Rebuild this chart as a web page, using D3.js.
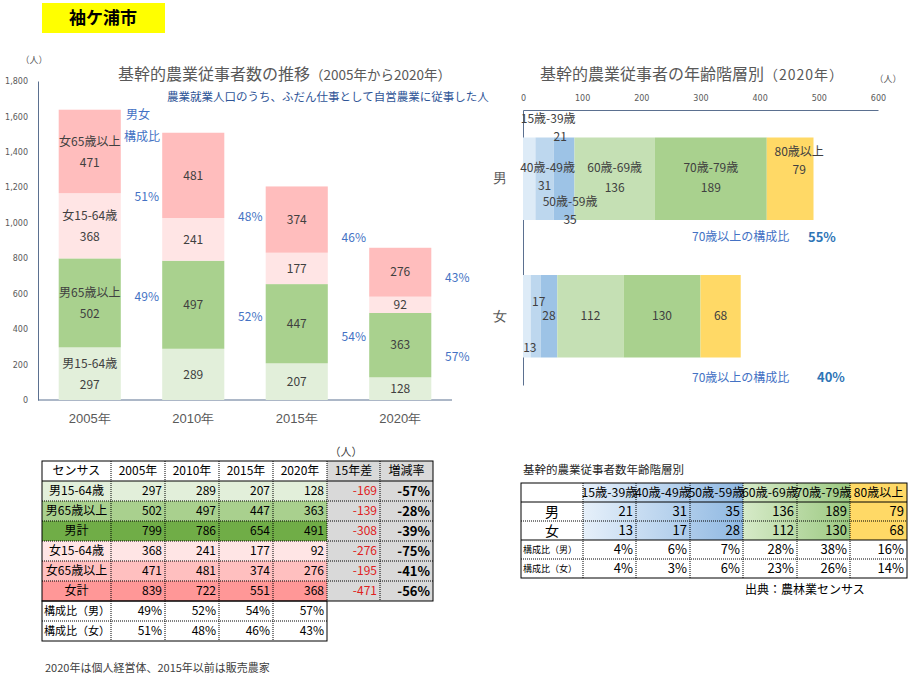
<!DOCTYPE html>
<html>
<head>
<meta charset="utf-8">
<script src="https://cdn.jsdelivr.net/npm/d3@7"></script>
<style>
  body { margin: 0; background: #fff; }
  svg { display: block; font-family: "Noto Sans CJK JP", "Noto Sans", sans-serif; }
</style>
</head>
<body>
<svg id="chart" width="919" height="680"></svg>
<script>
// --- data ---
const years = ['2005年', '2010年', '2015年', '2020年'];
const male1564 = [297, 289, 207, 128];
const male65 = [502, 497, 447, 363];
const female1564 = [368, 241, 177, 92];
const female65 = [471, 481, 374, 276];
const seriesNames = ['男15-64歳', '男65歳以上', '女15-64歳', '女65歳以上'];
const yTicks = [0, 200, 400, 600, 800, 1000, 1200, 1400, 1600, 1800];

const ageGroups = ['15歳-39歳', '40歳-49歳', '50歳-59歳', '60歳-69歳', '70歳-79歳', '80歳以上'];
const sexes = ['男', '女'];
const maleAge = [21, 31, 35, 136, 189, 79];
const femaleAge = [13, 17, 28, 112, 130, 68];
const maleAgeShare = ['4%', '6%', '7%', '28%', '38%', '16%'];
const femaleAgeShare = ['4%', '3%', '6%', '23%', '26%', '14%'];
const over70Share = ['55%', '40%'];
const xTicksAge = [0, 100, 200, 300, 400, 500, 600];

const svg = d3.select('#chart');
svg.append('rect').attr('width', 919).attr('height', 680).attr('fill', '#fff');

const blue = '#4472C4';
const gray = '#595959';
const axisCol = '#5B7090';
const loc = d3.formatLocale({ decimal: '.', thousands: ',', grouping: [3], currency: ['', ''], minus: '-' });
const pct = loc.format('.0%');

// title badge
svg.append('rect').attr('x', 42).attr('y', 3).attr('width', 123).attr('height', 30).attr('fill', '#FFFF00');
svg.append('text').attr('x', 103).attr('y', 24).attr('text-anchor', 'middle')
  .attr('font-size', 17).attr('font-weight', 'bold').text('袖ケ浦市');

// ================= left chart =================
const stackColors = ['#E2EFDA', '#A9D18E', '#FFE5E5', '#FFBDBD'];
const keys = ['m1564', 'm65', 'f1564', 'f65'];
const rows = years.map((y, i) => ({
  year: y, m1564: male1564[i], m65: male65[i], f1564: female1564[i], f65: female65[i]
}));
const maleTotal = years.map((y, i) => male1564[i] + male65[i]);
const femaleTotal = years.map((y, i) => female1564[i] + female65[i]);

const x = d3.scaleBand().domain(years).range([38, 452]).paddingInner(0.4).paddingOuter(0.2);
const y = d3.scaleLinear().domain([0, 1800]).range([400, 81]);

const gL = svg.append('g');
gL.append('text').attr('x', 118).attr('y', 80).attr('fill', gray).attr('font-size', 16)
  .text('基幹的農業従事者数の推移')
  .append('tspan').attr('font-size', 13.5).text('（2005年から2020年）');
gL.append('text').attr('x', 167).attr('y', 101).attr('fill', '#2F5597').attr('font-size', 11.5)
  .text('農業就業人口のうち、ふだん仕事として自営農業に従事した人');
gL.append('text').attr('x', 34).attr('y', 63).attr('text-anchor', 'middle').attr('fill', gray)
  .attr('font-size', 9).text('（人）');

const yAxis = gL.append('g').attr('transform', 'translate(38,0)')
  .call(d3.axisLeft(y).tickValues(yTicks).tickFormat(d3.format(',')).tickSize(0).tickSizeOuter(0).tickPadding(10));
yAxis.select('.domain').attr('stroke', axisCol);
yAxis.selectAll('text').attr('fill', gray).attr('font-size', 8).attr('font-family', 'Verdana, DejaVu Sans, sans-serif');

const xAxis = gL.append('g').attr('transform', 'translate(0,400)')
  .call(d3.axisBottom(x).tickSize(0).tickSizeOuter(0).tickPadding(14));
xAxis.select('.domain').attr('stroke', axisCol).attr('d', 'M38,0H452');
xAxis.selectAll('text').attr('fill', gray).attr('font-size', 13);

const stacked = d3.stack().keys(keys)(rows);
stacked.forEach((s, si) => {
  gL.selectAll(null).data(s).enter().append('rect')
    .attr('x', d => x(d.data.year))
    .attr('y', d => y(d[1]))
    .attr('width', x.bandwidth())
    .attr('height', d => y(d[0]) - y(d[1]))
    .attr('fill', stackColors[si]);
  s.forEach((d, i) => {
    const cx = x(d.data.year) + x.bandwidth() / 2;
    const cy = (y(d[0]) + y(d[1])) / 2;
    if (i === 0) {
      gL.append('text').attr('x', cx).attr('y', cy - 10).attr('dy', '0.35em').attr('text-anchor', 'middle')
        .attr('fill', '#404040').attr('font-size', 12).text(seriesNames[si]);
      gL.append('text').attr('x', cx).attr('y', cy + 11).attr('dy', '0.35em').attr('text-anchor', 'middle')
        .attr('fill', '#404040').attr('font-size', 12).text(d[1] - d[0]);
    } else {
      gL.append('text').attr('x', cx).attr('y', cy).attr('dy', '0.35em').attr('text-anchor', 'middle')
        .attr('fill', '#404040').attr('font-size', 12).text(d[1] - d[0]);
    }
  });
});

// 男女構成比 labels (anchors in axis units, placed by hand in the original)
const femaleAnchor = [1147, 1035, 917, 692];
const maleAnchor = [585, 467, 354, 242];
gL.append('text').attr('x', 138).attr('y', 115).attr('dy', '0.35em').attr('text-anchor', 'middle')
  .attr('fill', blue).attr('font-size', 12).text('男女');
gL.append('text').attr('x', 142).attr('y', 137).attr('dy', '0.35em').attr('text-anchor', 'middle')
  .attr('fill', blue).attr('font-size', 12).text('構成比');
years.forEach((yr, i) => {
  const tot = maleTotal[i] + femaleTotal[i];
  const lx = x(yr) + x.bandwidth() + 26;
  gL.append('text').attr('x', lx).attr('y', y(femaleAnchor[i])).attr('dy', '0.35em').attr('text-anchor', 'middle')
    .attr('fill', blue).attr('font-size', 12).text(pct(femaleTotal[i] / tot));
  gL.append('text').attr('x', lx).attr('y', y(maleAnchor[i])).attr('dy', '0.35em').attr('text-anchor', 'middle')
    .attr('fill', blue).attr('font-size', 12).text(pct(maleTotal[i] / tot));
});

// ================= right chart =================
const ageColors = ['#DDEBF7', '#BDD7EE', '#9DC3E6', '#C5E0B4', '#A9D18E', '#FFD966'];
const xr = d3.scaleLinear().domain([0, 600]).range([523, 878]);
const yr = d3.scaleBand().domain(sexes).range([110, 385]).paddingInner(0.4).paddingOuter(0.2);
const gR = svg.append('g');

gR.append('text').attr('x', 540).attr('y', 80).attr('fill', gray).attr('font-size', 16)
  .text('基幹的農業従事者の年齢階層別')
  .append('tspan').attr('font-size', 14).attr('letter-spacing', 1).text('（2020年）');
gR.append('text').attr('x', 888).attr('y', 82).attr('text-anchor', 'middle').attr('fill', gray)
  .attr('font-size', 9).text('（人）');

const rAxis = gR.append('g').attr('transform', 'translate(0,110)')
  .call(d3.axisTop(xr).tickValues(xTicksAge).tickSize(0).tickSizeOuter(0).tickPadding(9));
rAxis.select('.domain').attr('stroke', axisCol);
rAxis.selectAll('text').attr('fill', gray).attr('font-size', 8).attr('font-family', 'Verdana, DejaVu Sans, sans-serif');
const vAxis = gR.append('g').attr('transform', 'translate(523,0)')
  .call(d3.axisLeft(yr).tickSize(0).tickSizeOuter(0).tickPadding(16));
vAxis.select('.domain').attr('stroke', axisCol);
vAxis.selectAll('text').attr('fill', gray).attr('font-size', 14);

// label offsets (dx, dy from segment centre) for name / value, placed by hand in the original
const maleLabelPos = [
  { n: [19, -60], v: [31, -42] },
  { n: [3, -11], v: [0, 7] },
  { n: [6, 23], v: [6, 41] },
  { n: [0, -11], v: [0, 9] },
  { n: [0, -11], v: [0, 9] },
  { n: [9, -27], v: [9, -9] }
];
const femaleLabelPos = [[3, 32], [3, -14], [0, 0], [0, 0], [0, 0], [0, 0]];

[maleAge, femaleAge].forEach((vals, si) => {
  const sex = sexes[si];
  const cum = d3.cumsum(vals);
  const segs = vals.map((v, i) => ({ v, x0: cum[i] - v, x1: cum[i], i }));
  gR.selectAll(null).data(segs).enter().append('rect')
    .attr('x', d => xr(d.x0)).attr('y', yr(sex))
    .attr('width', d => xr(d.x1) - xr(d.x0)).attr('height', yr.bandwidth())
    .attr('fill', d => ageColors[d.i]);
  const cy = yr(sex) + yr.bandwidth() / 2;
  segs.forEach(d => {
    const cx = (xr(d.x0) + xr(d.x1)) / 2;
    if (si === 0) {
      const p = maleLabelPos[d.i];
      gR.append('text').attr('x', cx + p.n[0]).attr('y', cy + p.n[1]).attr('dy', '0.35em')
        .attr('text-anchor', 'middle').attr('fill', '#404040').attr('font-size', 12).text(ageGroups[d.i]);
      gR.append('text').attr('x', cx + p.v[0]).attr('y', cy + p.v[1]).attr('dy', '0.35em')
        .attr('text-anchor', 'middle').attr('fill', '#404040').attr('font-size', 12).text(d.v);
    } else {
      const p = femaleLabelPos[d.i];
      gR.append('text').attr('x', cx + p[0]).attr('y', cy + p[1]).attr('dy', '0.35em')
        .attr('text-anchor', 'middle').attr('fill', '#404040').attr('font-size', 12).text(d.v);
    }
  });
  const ty = yr(sex) + yr.bandwidth() + (si === 0 ? 17 : 20);
  gR.append('text').attr('x', 692).attr('y', ty).attr('dy', '0.35em').attr('fill', blue)
    .attr('font-size', 12).text('70歳以上の構成比');
  gR.append('text').attr('x', si === 0 ? 808 : 817).attr('y', ty).attr('dy', '0.35em').attr('fill', '#2E75B6')
    .attr('font-size', 13).attr('font-weight', 'bold').text(over70Share[si]);
});

// ================= tables =================
function drawGrid(g, xs, ys, solidRows) {
  // dotted inner lines
  for (let i = 1; i < xs.length - 1; i++) {
    g.append('line').attr('x1', xs[i]).attr('x2', xs[i]).attr('y1', ys[0]).attr('y2', ys[ys.length - 1])
      .attr('stroke', '#000').attr('stroke-dasharray', '1,1');
  }
  for (let j = 1; j < ys.length - 1; j++) {
    g.append('line').attr('x1', xs[0]).attr('x2', xs[xs.length - 1]).attr('y1', ys[j]).attr('y2', ys[j])
      .attr('stroke', '#000').attr('stroke-dasharray', solidRows.includes(j) ? null : '1,1');
  }
  g.append('rect').attr('x', xs[0]).attr('y', ys[0]).attr('width', xs[xs.length - 1] - xs[0])
    .attr('height', ys[ys.length - 1] - ys[0]).attr('fill', 'none').attr('stroke', '#000');
}
function cellText(g, x0, x1, y0, y1, txt, opt = {}) {
  const align = opt.align || 'right';
  const tx = align === 'right' ? x1 - 3 : align === 'left' ? x0 + 2 : (x0 + x1) / 2;
  g.append('text').attr('x', tx).attr('y', (y0 + y1) / 2).attr('dy', '0.36em')
    .attr('text-anchor', align === 'right' ? 'end' : align === 'left' ? 'start' : 'middle')
    .attr('font-size', opt.size || 12).attr('fill', opt.color || '#000')
    .attr('font-weight', opt.bold ? 'bold' : null).text(txt);
}

// left table
const gT = svg.append('g');
const lx = [42, 111, 165, 219, 273, 327, 380, 433];
const ly = d3.range(9).map(i => 461 + i * 20).concat([641]);
const tRows = [
  { label: '男15-64歳', vals: male1564, fill: '#E2EFDA' },
  { label: '男65歳以上', vals: male65, fill: '#A9D08E' },
  { label: '男計', vals: maleTotal, fill: '#70AD47' },
  { label: '女15-64歳', vals: female1564, fill: '#FFE5E5' },
  { label: '女65歳以上', vals: female65, fill: '#FFBFBF' },
  { label: '女計', vals: femaleTotal, fill: '#FF9797' }
];
gT.append('rect').attr('x', lx[5]).attr('y', ly[0]).attr('width', lx[7] - lx[5]).attr('height', ly[7] - ly[0]).attr('fill', '#D9D9D9');
tRows.forEach((r, i) => {
  gT.append('rect').attr('x', lx[0]).attr('y', ly[i + 1]).attr('width', lx[5] - lx[0]).attr('height', 20).attr('fill', r.fill);
});
drawGrid(gT, lx, ly.slice(0, 8), [1]);
drawGrid(gT, lx.slice(0, 6), ly.slice(7), []);
gT.append('text').attr('x', 346).attr('y', 452).attr('dy', '0.35em').attr('text-anchor', 'middle')
  .attr('font-size', 11).attr('fill', '#404040').text('（人）');
cellText(gT, lx[0], lx[1], ly[0], ly[1], 'センサス', { align: 'middle' });
years.forEach((yy, i) => cellText(gT, lx[i + 1], lx[i + 2], ly[0], ly[1], yy, { align: 'middle' }));
cellText(gT, lx[5], lx[6], ly[0], ly[1], '15年差', { align: 'middle' });
cellText(gT, lx[6], lx[7], ly[0], ly[1], '増減率', { align: 'middle' });
tRows.forEach((r, i) => {
  const y0 = ly[i + 1], y1 = ly[i + 2];
  cellText(gT, lx[0], lx[1], y0, y1, r.label, { align: 'middle' });
  r.vals.forEach((v, k) => cellText(gT, lx[k + 1], lx[k + 2], y0, y1, v));
  const diff = r.vals[3] - r.vals[0];
  cellText(gT, lx[5], lx[6], y0, y1, diff, { color: '#E02020' });
  cellText(gT, lx[6], lx[7], y0, y1, pct(r.vals[3] / r.vals[0] - 1), { bold: true, size: 13 });
});
['構成比（男）', '構成比（女）'].forEach((lab, j) => {
  const y0 = ly[7 + j], y1 = ly[8 + j];
  cellText(gT, lx[0], lx[1], y0, y1, lab, { align: 'left', size: 11 });
  years.forEach((yy, i) => {
    const tot = maleTotal[i] + femaleTotal[i];
    cellText(gT, lx[i + 1], lx[i + 2], y0, y1, pct((j === 0 ? maleTotal[i] : femaleTotal[i]) / tot));
  });
});
gT.append('text').attr('x', 45).attr('y', 668).attr('dy', '0.35em').attr('font-size', 11)
  .attr('fill', '#404040').text('2020年は個人経営体、2015年以前は販売農家');

// right table
const gA = svg.append('g');
const ax = [521, 583, 636, 690, 743, 797, 850, 907];
const ay = [483, 502, 521, 540, 559, 578];
const defs = svg.append('defs');
const gb = defs.append('linearGradient').attr('id', 'gBlue').attr('gradientUnits', 'userSpaceOnUse')
  .attr('x1', ax[1]).attr('x2', ax[4]).attr('y1', 0).attr('y2', 0);
gb.append('stop').attr('offset', 0).attr('stop-color', '#E6F0FA');
gb.append('stop').attr('offset', 1).attr('stop-color', '#8FB8E2');
const gg = defs.append('linearGradient').attr('id', 'gGreen').attr('gradientUnits', 'userSpaceOnUse')
  .attr('x1', ax[4]).attr('x2', ax[6]).attr('y1', 0).attr('y2', 0);
gg.append('stop').attr('offset', 0).attr('stop-color', '#D6EAC8');
gg.append('stop').attr('offset', 1).attr('stop-color', '#9CC981');
gA.append('rect').attr('x', ax[1]).attr('y', ay[0]).attr('width', ax[4] - ax[1]).attr('height', ay[3] - ay[0]).attr('fill', 'url(#gBlue)');
gA.append('rect').attr('x', ax[4]).attr('y', ay[0]).attr('width', ax[6] - ax[4]).attr('height', ay[3] - ay[0]).attr('fill', 'url(#gGreen)');
gA.append('rect').attr('x', ax[6]).attr('y', ay[0]).attr('width', ax[7] - ax[6]).attr('height', ay[3] - ay[0]).attr('fill', '#FFD966');
drawGrid(gA, ax, ay, [1, 3]);
gA.append('text').attr('x', 523).attr('y', 470).attr('dy', '0.35em').attr('font-size', 11.5)
  .attr('fill', '#262626').text('基幹的農業従事者数年齢階層別');
ageGroups.forEach((a, i) => {
  gA.append('text').attr('x', (ax[i + 1] + ax[i + 2]) / 2).attr('y', (ay[0] + ay[1]) / 2).attr('dy', '0.36em')
    .attr('text-anchor', 'middle').attr('font-size', 12).attr('fill', '#000').attr('textLength', i === 5 ? null : 56)
    .attr('lengthAdjust', 'spacingAndGlyphs').text(a);
});
[maleAge, femaleAge].forEach((vals, j) => {
  cellText(gA, ax[0], ax[1], ay[1 + j], ay[2 + j], sexes[j], { align: 'middle', size: 14 });
  vals.forEach((v, i) => cellText(gA, ax[i + 1], ax[i + 2], ay[1 + j], ay[2 + j], v, { size: 13 }));
});
[['構成比（男）', maleAgeShare], ['構成比（女）', femaleAgeShare]].forEach(([lab, vals], j) => {
  cellText(gA, ax[0], ax[1], ay[3 + j], ay[4 + j], lab, { align: 'left', size: 9 });
  vals.forEach((v, i) => cellText(gA, ax[i + 1], ax[i + 2], ay[3 + j], ay[4 + j], v, { size: 13 }));
});
gA.append('text').attr('x', 745).attr('y', 590).attr('dy', '0.35em').attr('font-size', 12)
  .attr('fill', '#000').text('出典：農林業センサス');
</script>
</body>
</html>
